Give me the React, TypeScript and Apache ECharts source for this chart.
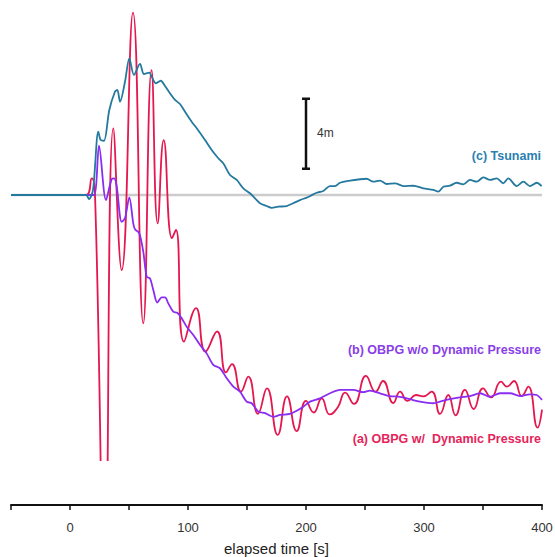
import React, { useEffect, useRef } from "react";
import * as echarts from "echarts";

// elapsed time [s], relative height [m]
const tsunamiData: [number, number][] = [
  [-50, 0], [13.6, 0], [16.1, -0.23], [19.5, 0.29], [24.0, 3.62], [26.0, 3.14], [28.8, 3.1],
  [33.3, 4.86], [38.1, 5.9], [40.1, 6.0], [42.4, 5.33], [46.6, 6.47], [50.3, 7.81], [54.2, 6.86],
  [59.3, 7.49], [62.7, 6.91], [67.2, 6.99], [69.2, 6.76], [72.9, 6.38], [76.9, 6.53], [80.5, 6.23],
  [84.7, 5.81], [89.0, 5.43], [93.2, 5.2], [97.5, 4.76], [103.1, 4.19], [107.4, 3.81], [114.4, 3.14],
  [120.1, 2.57], [125.7, 2.1], [129.9, 1.81], [135.6, 1.14], [141.3, 0.86], [146.9, 0.38],
  [152.5, 0.1], [156.8, -0.19], [161.0, -0.47], [166.7, -0.63], [170.9, -0.73], [176.5, -0.67],
  [183.6, -0.63], [189.2, -0.47], [194.9, -0.29], [200.6, -0.15], [203.4, -0.06], [209.1, 0.13],
  [214.7, 0.23], [220.3, 0.51], [224.6, 0.51], [228.8, 0.7], [237.3, 0.82], [245.8, 0.9],
  [251.4, 0.93], [257.0, 0.76], [262.7, 0.82], [268.4, 0.63], [275.4, 0.67], [282.5, 0.51],
  [290.9, 0.53], [299.4, 0.38], [307.9, 0.29], [312.1, 0.19], [316.4, 0.47], [322.0, 0.53],
  [327.7, 0.7], [333.3, 0.61], [339.0, 0.86], [344.7, 0.76], [350.3, 1.01], [356.0, 0.86],
  [361.6, 0.95], [367.2, 0.67], [371.4, 0.95], [378.6, 0.51], [384.2, 0.76], [389.8, 0.51],
  [395.5, 0.7], [399.7, 0.51],
];

const obpgNoDynData: [number, number][] = [
  [-50, 0], [13.6, 0], [20.3, 0], [24.6, 2.82], [30.5, -0.29], [35.3, 0.91], [37.5, 0.95],
  [39.6, 0.47], [43.8, -1.53], [46.6, -1.33], [50.3, -0.13], [53.6, -1.62], [55.1, -1.96],
  [58.7, -2.19], [62.1, -3.24], [65.0, -4.67], [67.8, -4.76], [70.6, -5.43], [74.0, -6.15],
  [77.7, -5.85], [80.5, -5.85], [83.3, -6.19], [87.5, -6.67], [90.9, -6.73], [94.7, -7.05],
  [98.9, -7.53], [104.5, -8.0], [110.2, -8.57], [115.8, -9.05], [121.4, -9.71], [127.1, -9.9],
  [132.8, -10.47], [138.4, -10.95], [144.1, -11.24], [149.7, -11.81], [154.0, -11.9],
  [159.6, -12.38], [165.3, -12.47], [172.3, -12.67], [178.0, -12.57], [186.4, -12.51],
  [192.1, -12.33], [197.7, -12.1], [203.4, -11.81], [211.9, -11.62], [220.3, -11.33],
  [228.8, -11.14], [240.1, -11.14], [248.6, -11.27], [254.2, -11.18], [262.7, -11.33],
  [271.2, -11.49], [279.7, -11.53], [288.1, -11.67], [296.6, -11.81], [307.9, -11.9],
  [313.6, -11.81], [322.0, -11.67], [330.5, -11.56], [339.0, -11.49], [347.5, -11.33],
  [355.9, -11.53], [364.4, -11.33], [372.9, -11.33], [381.4, -11.49], [389.8, -11.39],
  [395.5, -11.43], [400, -11.71],
];

const obpgDynData: [number, number][] = [
  [-50, 0], [13.6, 0], [18.4, 0.95], [21.2, 0], [29.4, -22.0], [36.7, 3.81], [43.8, -4.29],
  [53.4, 10.42], [62.1, -7.33], [69.1, 7.14], [74.3, -1.62], [79.4, 3.14], [86.4, -2.47],
  [89.8, -2.0], [96.6, -8.38], [106.8, -6.46], [114.8, -8.95], [124.6, -7.8], [132.2, -10.14],
  [137.3, -9.66], [144.9, -11.24], [151.1, -10.38], [159.3, -12.5], [166.9, -11.05],
  [176.0, -13.71], [183.9, -11.51], [192.1, -13.49], [200.0, -11.77], [206.5, -12.43],
  [213.3, -11.62], [220.1, -12.54], [227.1, -12.11], [233.1, -11.29], [240.7, -11.94],
  [250.8, -10.34], [258.9, -11.24], [265.3, -10.63], [274.0, -11.89], [279.7, -11.24],
  [286.0, -11.77], [293.2, -11.43], [299.2, -11.51], [306.5, -11.24], [313.6, -12.51],
  [320.6, -11.43], [326.7, -12.59], [334.7, -11.14], [342.1, -12.23], [350.0, -11.05],
  [356.8, -11.57], [365.3, -10.67], [370.3, -10.95], [376.3, -10.63], [382.8, -11.49],
  [388.4, -10.95], [396.2, -13.29], [400, -12.26],
];

const baselineData: [number, number][] = [[-50, 0], [400, 0]];
const scaleBarData: [number, number][] = [[200, 1.5], [200, 5.5]];
const scaleBarLabel = "4m";
const labelTsunami = "(c) Tsunami";
const labelNoDyn = "(b) OBPG w/o Dynamic Pressure";
const labelDyn = "(a) OBPG w/  Dynamic Pressure";
const xTitle = "elapsed time [s]";

const C_TSU = "#24799f";
const C_NODYN = "#8a2cf2";
const C_DYN = "#e5174f";
const FONT = "'Liberation Sans', Arial, Helvetica, sans-serif";

export default function App() {
  const ref = useRef<HTMLDivElement>(null);
  useEffect(() => {
    if (!ref.current) return;
    const chart = echarts.init(ref.current, undefined, { renderer: "svg" });
    chart.setOption({
      animation: false,
      backgroundColor: "#ffffff",
      grid: { left: 11, right: 13, top: 0, bottom: 97, containLabel: false, outerBoundsMode: "none" },
      xAxis: {
        type: "value",
        min: -50,
        max: 400,
        interval: 50,
        offset: 45,
        name: xTitle,
        nameLocation: "middle",
        nameGap: 36,
        nameTextStyle: { fontSize: 15, color: "#222", fontFamily: FONT },
        axisLine: { onZero: false, lineStyle: { color: "#111", width: 2 } },
        axisTick: { length: 5, lineStyle: { color: "#111", width: 1.5 } },
        axisLabel: {
          margin: 16,
          fontSize: 13,
          color: "#333",
          fontFamily: FONT,
          formatter: (v: number) => (v % 100 === 0 ? String(v) : ""),
        },
        splitLine: { show: false },
      },
      yAxis: { type: "value", show: false, min: -15.143, max: 11.143, splitLine: { show: false } },
      series: [
        {
          type: "line", data: baselineData, showSymbol: false, silent: true,
          lineStyle: { color: "#cccccc", width: 2.5 },
        },
        {
          type: "line", data: obpgDynData, showSymbol: false, smooth: 0.5,
          lineStyle: { color: C_DYN, width: 1.8 },
        },
        {
          type: "line", data: obpgNoDynData, showSymbol: false, smooth: 0.3,
          lineStyle: { color: C_NODYN, width: 1.8 },
        },
        {
          type: "line", data: tsunamiData, showSymbol: false, smooth: 0.3,
          lineStyle: { color: C_TSU, width: 1.8 },
        },
        {
          type: "line", data: scaleBarData, symbol: "rect", symbolSize: [8, 2.5], showSymbol: true,
          lineStyle: { color: "#111", width: 2.5 }, itemStyle: { color: "#111" },
        },
      ],
      graphic: [
        { type: "text", right: 14, top: 149, style: { text: labelTsunami, fill: "#2a7fb0", font: `bold 12.5px ${FONT}` } },
        { type: "text", right: 14, top: 343, style: { text: labelNoDyn, fill: "#8a3ee8", font: `bold 12.5px ${FONT}` } },
        { type: "text", right: 14, top: 432, style: { text: labelDyn, fill: "#e5245a", font: `bold 12.5px ${FONT}` } },
        { type: "text", left: 317, top: 127, style: { text: scaleBarLabel, fill: "#333", font: `12px ${FONT}` } },
      ],
    });
    return () => chart.dispose();
  }, []);
  return <div ref={ref} style={{ position: "fixed", left: 0, top: 0, width: 555, height: 557 }} />;
}
